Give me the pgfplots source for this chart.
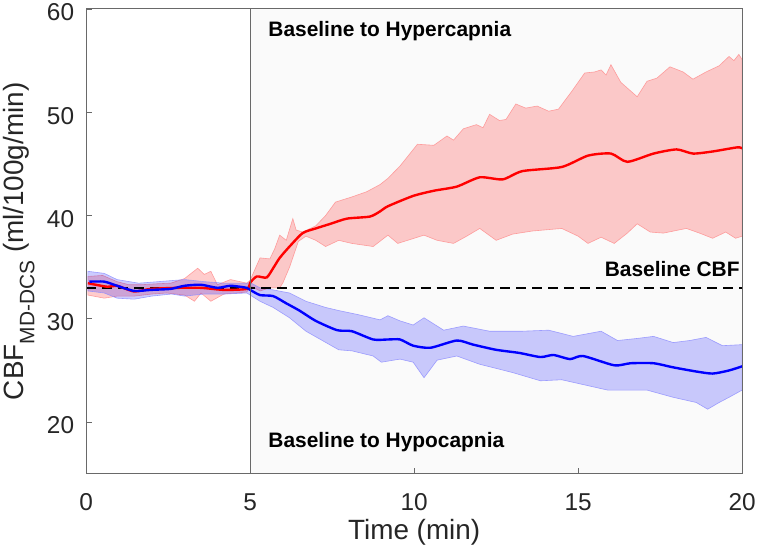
\documentclass[border=0pt]{standalone}
\usepackage{pgfplots}
\pgfplotsset{compat=1.18}
\usepackage{fontspec}
\setmainfont{Liberation Sans}
\definecolor{axgray}{RGB}{105,105,105}
\definecolor{txtgray}{RGB}{38,38,38}
\definecolor{bggray}{RGB}{250,250,250}
\definecolor{redfill}{RGB}{255,0,0}
\definecolor{rededge}{RGB}{255,140,140}
\definecolor{blueedge}{RGB}{140,140,255}
\begin{document}
\begin{tikzpicture}
\begin{axis}[
  scale only axis, width=659pt, height=467pt,
  xmin=0, xmax=20, ymin=15, ymax=60,
  xtick={0,5,10,15,20}, ytick={20,30,40,50,60},
  tick pos=left, tick align=inside, major tick length=6pt,
  axis line style={axgray, line width=1pt},
  tick style={axgray, line width=0.8pt},
  axis on top,
  /pgf/number format/assume math mode=true,
  ticklabel style={font=\fontsize{24.5}{28}\selectfont, text=txtgray},
  xticklabel style={anchor=base, yshift=-37pt},
  yticklabel style={anchor=east, inner sep=0pt, xshift=-12pt, yshift=-3.5pt},
  xlabel={Time (min)},
  ylabel={CBF\raisebox{-11pt}{\fontsize{21}{21}\selectfont MD-DCS} (ml/100g/min)},
  label style={font=\fontsize{28}{32}\selectfont, text=txtgray},
  xlabel style={at={(axis description cs:0.5,-0.1413)}, anchor=base},
  ylabel style={at={(axis description cs:-0.0956,0.5)}, anchor=base},
  clip=true,
]
% shaded region
\addplot[fill=bggray, draw=none] coordinates {(5,15) (20,15) (20,60) (5,60)} -- cycle;

% red band: upper forward, lower reversed
\addplot[fill=redfill, fill opacity=0.2, draw=rededge, line width=0.6pt, draw opacity=0.8] coordinates {
(0.05,34.1) (0.5,34.2) (0.94,33.6) (1.3,33.3) (1.67,33.3) (2.2,33.4) (2.58,33.45) (3.0,33.9) (3.4,34.9) (3.6,34.3) (3.8,34.6) (4.0,33.3) (4.4,33.8) (4.9,33.45) (5.0,33.75) (5.3,35.9) (5.6,35.8) (5.75,36.8) (5.9,38.1) (6.1,37.6) (6.3,39.7) (6.4,38.6) (6.6,38.4) (7.0,39.0) (7.3,40.0) (7.6,41.3) (8.1,41.8) (8.55,42.3) (8.96,43.0) (9.2,43.6) (9.57,44.8) (10.1,46.9) (10.6,46.8) (11.0,47.7) (11.2,47.3) (11.5,48.4) (11.9,48.8) (12.1,48.5) (12.3,49.8) (12.6,49.2) (12.8,49.3) (13.1,50.8) (13.4,50.4) (13.75,50.6) (14.1,50.1) (14.4,50.3) (14.8,52.0) (15.2,53.8) (15.5,53.9) (15.7,54.1) (15.85,53.6) (16.0,54.6) (16.3,52.9) (16.8,51.5) (17.1,53.0) (17.4,53.3) (17.8,54.4) (18.2,53.9) (18.5,53.2) (18.9,53.9) (19.3,54.5) (19.6,55.4) (19.75,55.0) (19.9,55.6) (20,55.1)
(20,38.0) (19.8,37.8) (19.5,38.4) (19.1,37.8) (18.7,38.3) (18.3,38.75) (17.6,38.3) (17.2,38.4) (16.8,39.2) (16.5,38.3) (16.1,37.3) (15.7,37.9) (15.3,37.3) (15.0,38.0) (14.5,38.75) (13.6,38.5) (13.0,38.2) (12.5,37.6) (12.0,38.75) (11.6,38.0) (11.2,37.3) (10.7,37.6) (10.3,38.1) (9.9,37.7) (9.5,37.3) (9.2,38.1) (8.75,37.0) (8.1,37.3) (7.7,37.6) (7.3,37.0) (7.0,37.6) (6.7,38.0) (6.47,37.5) (6.2,35.0) (6.0,33.5) (5.9,33.0) (5.6,33.0) (5.3,32.7) (5.0,33.2) (4.9,32.6) (4.6,32.5) (4.2,32.4) (3.8,31.7) (3.5,32.5) (3.3,31.7) (3.0,32.3) (2.45,32.5) (2.0,32.4) (1.46,32.2) (0.94,32.2) (0.55,32.0) (0.05,32.3)
} -- cycle;

% blue band
\addplot[fill=blue, fill opacity=0.2, draw=blueedge, line width=0.6pt, draw opacity=0.8] coordinates {
(0.05,34.6) (0.55,34.4) (0.94,33.8) (1.6,33.45) (2.2,33.6) (3.0,33.8) (3.6,33.6) (4.2,33.45) (4.9,33.45) (5.0,33.5) (5.3,33.0) (5.7,32.8) (6.2,32.5) (6.7,31.7) (7.3,31.1) (7.7,30.8) (8.3,30.4) (8.96,29.9) (9.2,30.3) (9.57,29.8) (9.97,29.4) (10.3,30.1) (10.9,28.9) (11.5,29.3) (12.3,28.8) (13.3,28.8) (14.1,28.9) (14.85,28.3) (15.7,28.8) (16.2,27.9) (16.8,28.1) (17.3,28.3) (17.9,27.7) (18.4,27.9) (18.9,28.2) (19.4,27.4) (20,27.5)
(20,23.1) (19.6,22.4) (19.3,21.9) (18.95,21.25) (18.6,21.9) (17.9,22.4) (17.1,23.1) (15.9,23.1) (15.2,23.6) (14.5,24.1) (13.85,24.0) (13.0,24.8) (12.0,25.6) (11.3,26.4) (10.7,26.0) (10.3,24.3) (9.97,25.8) (9.57,26.1) (9.0,25.8) (8.75,26.4) (8.1,26.9) (7.7,27.0) (7.2,27.9) (6.7,28.8) (6.2,30.1) (5.7,31.1) (5.3,31.7) (5.0,32.3) (4.9,32.5) (4.2,32.4) (3.6,32.4) (3.0,32.2) (2.6,32.4) (2.0,32.2) (1.46,31.9) (0.94,32.0) (0.55,32.5) (0.05,32.7)
} -- cycle;

% baseline
\addplot[black, dashed, dash pattern=on 10pt off 6pt, line width=1.4pt] coordinates {(0,33) (20,33)};

% means
\addplot[red, line width=2.4pt, smooth, tension=0.4] coordinates {
(0.05,33.45) (0.65,33.1) (0.94,33.2) (1.46,32.65) (1.97,32.9) (2.8,33.0) (3.5,33.0) (4.2,32.8) (4.9,32.9) (5.0,33.5) (5.2,34.1) (5.5,34.0) (5.7,34.9) (5.9,35.9) (6.2,37.0) (6.6,38.3) (7.0,38.75) (7.45,39.2) (7.95,39.7) (8.65,39.9) (8.96,40.4) (9.2,40.9) (9.97,41.9) (10.6,42.4) (11.3,42.8) (12.0,43.7) (12.7,43.5) (13.3,44.3) (14.5,44.7) (15.3,45.8) (16.0,46.0) (16.5,45.2) (17.3,46.0) (18.0,46.4) (18.5,46.0) (19.1,46.2) (19.85,46.6) (20,46.5)
};
\addplot[blue, line width=2.4pt, smooth, tension=0.4] coordinates {
(0.1,33.6) (0.55,33.6) (0.94,33.2) (1.46,32.7) (1.97,32.8) (2.58,32.9) (3.0,33.2) (3.5,33.3) (4.0,33.0) (4.4,33.2) (4.9,33.0) (5.0,32.8) (5.3,32.3) (5.7,32.2) (6.1,31.5) (6.5,30.8) (7.0,29.8) (7.65,28.9) (8.1,28.8) (8.75,28.0) (9.2,28.0) (9.57,28.0) (9.97,27.4) (10.5,27.2) (11.3,27.9) (11.8,27.5) (12.5,27.0) (13.2,26.7) (13.85,26.3) (14.25,26.5) (14.75,26.1) (15.15,26.4) (16.1,25.5) (16.6,25.7) (17.3,25.7) (17.9,25.3) (18.6,24.9) (19.1,24.7) (19.6,25.0) (20,25.4)
};

% vertical separator
\addplot[axgray, line width=1.3pt] coordinates {(5,15) (5,60)};

\node[anchor=base west, inner sep=0pt, font=\fontsize{21}{24}\selectfont\bfseries, text=black] at (axis cs:5.55,57.31) {Baseline to Hypercapnia};
\node[anchor=base west, inner sep=0pt, font=\fontsize{21}{24}\selectfont\bfseries, text=black] at (axis cs:5.55,17.5) {Baseline to Hypocapnia};
\node[anchor=base east, inner sep=0pt, font=\fontsize{21}{24}\selectfont\bfseries, text=black] at (axis cs:19.93,34.13) {Baseline CBF};
\end{axis}
\path ([xshift=-86pt,yshift=-81pt]current axis.south west) rectangle ([xshift=14pt,yshift=9pt]current axis.north east);
\end{tikzpicture}
\end{document}
